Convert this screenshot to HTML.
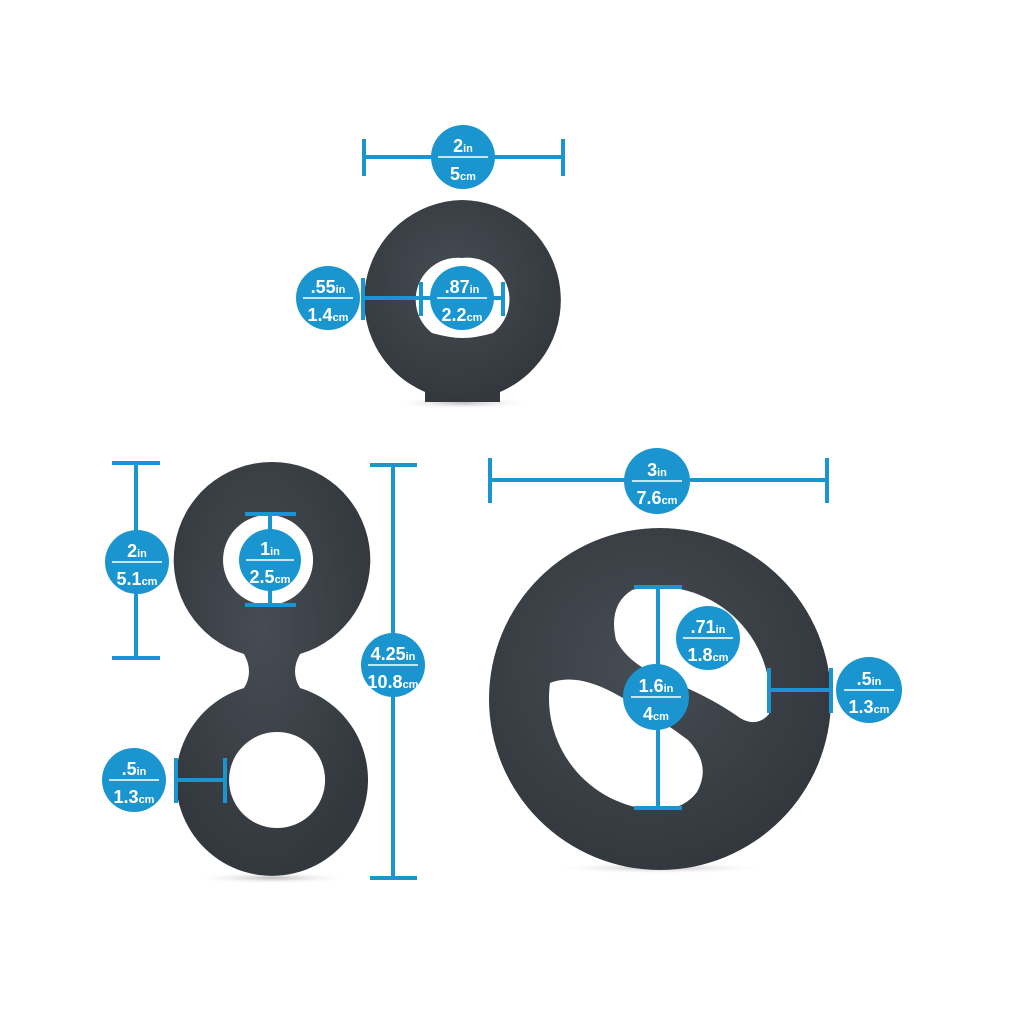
<!DOCTYPE html>
<html><head><style>
html,body{margin:0;padding:0;background:#fff;}
svg{display:block;}
.t{font-family:"Liberation Sans Narrow","Liberation Sans",sans-serif;font-weight:bold;fill:#fff;text-anchor:middle;}
.b{fill:#1a95d0;}
.l{stroke:#1a95d0;stroke-width:4;fill:none;}
</style></head><body>
<svg width="1024" height="1019" viewBox="0 0 1024 1019" xmlns="http://www.w3.org/2000/svg">
<defs>
<radialGradient id="g" cx="0.45" cy="0.4" r="0.6"><stop offset="0" stop-color="#464c53"/><stop offset="1" stop-color="#33383e"/></radialGradient>
<radialGradient id="sh"><stop offset="0" stop-color="#bbb"/><stop offset="1" stop-color="#fff" stop-opacity="0"/></radialGradient>
</defs>
<ellipse cx="462" cy="403" rx="70" ry="6" fill="url(#sh)"/>
<ellipse cx="272" cy="878" rx="80" ry="6" fill="url(#sh)"/>
<ellipse cx="660" cy="868" rx="110" ry="6" fill="url(#sh)"/>

<!-- top ring -->
<path fill="url(#g)" fill-rule="evenodd" d="M462 200 A100 100 0 0 1 500 392 L500 402 L425 402 L425 392 A100 100 0 0 1 462 200 Z
M462 258 A42 42 0 0 0 432 333 Q450 338 462 338 Q476 338 493 333 A42 42 0 0 0 462 258 Z"/>

<!-- figure 8 -->
<path fill="url(#g)" fill-rule="evenodd" d="M272 462 A98 98 0 0 1 300 654 Q290 672 300 688 A96 96 0 1 1 244 688 Q254 672 244 654 A98 98 0 0 1 272 462 Z
M268 515 A45 45 0 1 0 268.1 515 Z
M277 732 A48 48 0 1 0 277.1 732 Z"/>

<!-- big ring -->
<circle cx="660" cy="699" r="171" fill="url(#g)"/>
<path fill="#fff" d="M632 590 A112 112 0 0 1 769 714 Q757 728 740 718 Q715 700 680 685 Q630 668 616 640 Q608 605 632 590 Z"/>
<path fill="#fff" d="M550 683 Q575 673 612 692 Q655 715 688 740 Q712 765 697 792 Q685 808 662 810 A112 112 0 0 1 550 683 Z"/>

<line class="l" x1="364" y1="157" x2="563" y2="157"/>
<line class="l" x1="364" y1="139" x2="364" y2="176"/>
<line class="l" x1="563" y1="139" x2="563" y2="176"/>
<circle class="b" cx="463" cy="157" r="32"/>
<line class="l" x1="362" y1="298" x2="505" y2="298"/>
<line class="l" x1="363" y1="278" x2="363" y2="320"/>
<line class="l" x1="421" y1="282" x2="421" y2="316"/>
<line class="l" x1="503" y1="282" x2="503" y2="316"/>
<circle class="b" cx="328" cy="298" r="32"/>
<circle class="b" cx="462" cy="298" r="32"/>

<line class="l" x1="136" y1="463" x2="136" y2="658"/>
<line class="l" x1="112" y1="463" x2="160" y2="463"/>
<line class="l" x1="112" y1="658" x2="160" y2="658"/>
<circle class="b" cx="137" cy="562" r="32"/>
<line class="l" x1="270" y1="514" x2="270" y2="605"/>
<line class="l" x1="245" y1="514" x2="296" y2="514"/>
<line class="l" x1="245" y1="605" x2="296" y2="605"/>
<circle class="b" cx="270" cy="560" r="31"/>
<line class="l" x1="393" y1="465" x2="393" y2="878"/>
<line class="l" x1="370" y1="465" x2="417" y2="465"/>
<line class="l" x1="370" y1="878" x2="417" y2="878"/>
<circle class="b" cx="393" cy="665" r="32"/>
<line class="l" x1="175" y1="780" x2="225" y2="780"/>
<line class="l" x1="176" y1="758" x2="176" y2="803"/>
<line class="l" x1="225" y1="758" x2="225" y2="803"/>
<circle class="b" cx="134" cy="780" r="32"/>

<line class="l" x1="490" y1="480" x2="827" y2="480"/>
<line class="l" x1="490" y1="458" x2="490" y2="503"/>
<line class="l" x1="827" y1="458" x2="827" y2="503"/>
<circle class="b" cx="657" cy="481" r="33"/>
<line class="l" x1="658" y1="587" x2="658" y2="808"/>
<line class="l" x1="634" y1="587" x2="682" y2="587"/>
<line class="l" x1="634" y1="808" x2="682" y2="808"/>
<circle class="b" cx="708" cy="638" r="32"/>
<circle class="b" cx="656" cy="697" r="33"/>
<line class="l" x1="769" y1="690" x2="833" y2="690"/>
<line class="l" x1="769" y1="668" x2="769" y2="713"/>
<line class="l" x1="831" y1="668" x2="831" y2="713"/>
<circle class="b" cx="869" cy="690" r="33"/>

<g stroke="#fff" stroke-width="1.5">
<line x1="438" y1="157" x2="488" y2="157"/>
<line x1="303" y1="298" x2="353" y2="298"/>
<line x1="437" y1="298" x2="487" y2="298"/>
<line x1="112" y1="562" x2="162" y2="562"/>
<line x1="246" y1="560" x2="294" y2="560"/>
<line x1="368" y1="665" x2="418" y2="665"/>
<line x1="109" y1="780" x2="159" y2="780"/>
<line x1="632" y1="481" x2="682" y2="481"/>
<line x1="683" y1="638" x2="733" y2="638"/>
<line x1="631" y1="697" x2="681" y2="697"/>
<line x1="844" y1="690" x2="894" y2="690"/>
</g>
<g class="t" font-size="18">
<text x="463" y="152">2<tspan font-size="11">in</tspan></text>
<text x="463" y="180">5<tspan font-size="11">cm</tspan></text>
<text x="328" y="293">.55<tspan font-size="11">in</tspan></text>
<text x="328" y="321">1.4<tspan font-size="11">cm</tspan></text>
<text x="462" y="293">.87<tspan font-size="11">in</tspan></text>
<text x="462" y="321">2.2<tspan font-size="11">cm</tspan></text>
<text x="137" y="557">2<tspan font-size="11">in</tspan></text>
<text x="137" y="585">5.1<tspan font-size="11">cm</tspan></text>
<text x="270" y="555">1<tspan font-size="11">in</tspan></text>
<text x="270" y="583">2.5<tspan font-size="11">cm</tspan></text>
<text x="393" y="660">4.25<tspan font-size="11">in</tspan></text>
<text x="393" y="688">10.8<tspan font-size="11">cm</tspan></text>
<text x="134" y="775">.5<tspan font-size="11">in</tspan></text>
<text x="134" y="803">1.3<tspan font-size="11">cm</tspan></text>
<text x="657" y="476">3<tspan font-size="11">in</tspan></text>
<text x="657" y="504">7.6<tspan font-size="11">cm</tspan></text>
<text x="708" y="633">.71<tspan font-size="11">in</tspan></text>
<text x="708" y="661">1.8<tspan font-size="11">cm</tspan></text>
<text x="656" y="692">1.6<tspan font-size="11">in</tspan></text>
<text x="656" y="720">4<tspan font-size="11">cm</tspan></text>
<text x="869" y="685">.5<tspan font-size="11">in</tspan></text>
<text x="869" y="713">1.3<tspan font-size="11">cm</tspan></text>
</g>
</svg>
</body></html>
